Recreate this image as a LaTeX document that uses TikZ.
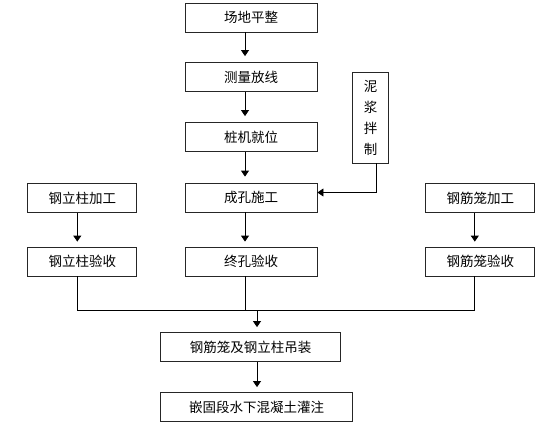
\documentclass[tikz,border=0pt]{standalone}
\usepackage{fontspec}
\newfontfamily\cjk{Noto Sans CJK SC}
\usepackage{tikz}
\usetikzlibrary{arrows.meta,positioning}

\begin{document}
\begin{tikzpicture}[x=1pt, y=-1pt,
    box/.style={draw=black!85, line width=0.8pt, minimum width=132pt, minimum height=29pt,
        inner sep=0pt, font=\cjk\fontsize{13.5}{16}\selectfont},
    arr/.style={line width=0.8pt, -{Triangle[length=6pt,width=8pt]}},
    link/.style={line width=0.8pt}]
    \useasboundingbox (0,0) rectangle (554,429);

    % Main column
    \node[box] (cd) at (251,17.5) {场地平整};
    \node[box] (cl) at (251,77) {测量放线};
    \node[box] (zj) at (251,137) {桩机就位};
    \node[box] (ck) at (251,197.5) {成孔施工};
    \node[box] (zk) at (251,261.5) {终孔验收};

    % Mud box
    \node[box, minimum width=36pt, minimum height=91pt, align=center,
        font=\cjk\fontsize{13.5}{21}\selectfont] (nj) at (370.7,117.5) {泥\\浆\\拌\\制};

    % Side columns
    \node[box, minimum width=109pt] (lj) at (82.3,198) {钢立柱加工};
    \node[box, minimum width=109pt] (lv) at (82.3,261.5) {钢立柱验收};
    \node[box, minimum width=109pt] (rj) at (480.3,198) {钢筋笼加工};
    \node[box, minimum width=109pt] (rv) at (480.3,261.5) {钢筋笼验收};

    % Bottom boxes
    \node[box, minimum width=180pt] (dz) at (250.7,347) {钢筋笼及钢立柱吊装};
    \node[box, minimum width=192pt] (gz) at (256.7,407) {嵌固段水下混凝土灌注};

    % Arrows down the main column
    \draw[arr, shorten >=6pt] ([xshift=-6pt]cd.south) -- ([xshift=-6pt]cl.north);
    \draw[arr, shorten >=6pt] ([xshift=-6pt]cl.south) -- ([xshift=-6pt]zj.north);
    \draw[arr, shorten >=6pt] ([xshift=-6pt]zj.south) -- ([xshift=-6pt]ck.north);
    \draw[arr, shorten >=5pt] ([xshift=-6pt]ck.south) -- ([xshift=-6pt]zk.north);

    % Mud feed
    \draw[arr] ([xshift=6pt]nj.south) |- ([yshift=5pt]ck.east);

    % Side arrows
    \draw[arr, shorten >=5pt] ([xshift=-5pt]lj.south) -- ([xshift=-5pt]lv.north);
    \draw[arr, shorten >=5pt] ([xshift=-5.5pt]rj.south) -- ([xshift=-5.5pt]rv.north);

    % Collecting line
    \coordinate (busL) at (77.3,310);
    \coordinate (busR) at (474.8,310);
    \coordinate (busM) at (257,310);
    \draw[link] ([xshift=-5pt]lv.south) -- (busL) -- (busR) -- ([xshift=-5.5pt]rv.south);
    \draw[link] ([xshift=-6pt]zk.south) -- ([xshift=-6pt]zk.south |- busL);
    \draw[arr, shorten >=5pt] (busM) -- (busM |- dz.north);
    \draw[arr, shorten >=5pt] (busM |- dz.south) -- (busM |- gz.north);
\end{tikzpicture}
\end{document}
